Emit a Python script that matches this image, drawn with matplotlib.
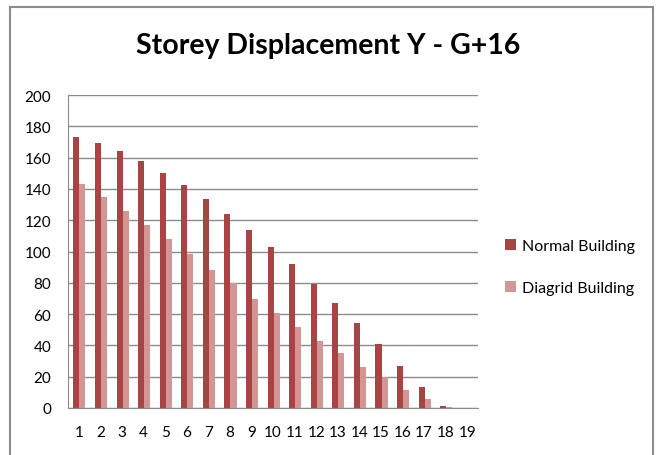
import matplotlib.pyplot as plt
from matplotlib.patches import Rectangle
import numpy as np

storeys = [str(i) for i in range(1, 20)]
normal = [173, 169.4, 164, 157.7, 150.4, 142.6, 133.6, 123.8, 113.6, 102.6,
          91.7, 79.4, 67.2, 54.3, 40.9, 27.0, 13.6, 1.5, 0]
diagrid = [143.2, 134.9, 126, 117, 107.9, 98.1, 88.3, 79.6, 69.8, 60.9,
           51.7, 42.6, 34.9, 26.4, 19.6, 11.7, 6.0, 0.9, 0]

c_normal = "#A94444"
c_diagrid = "#D49595"

plt.rcParams['font.family'] = ['Lato', 'DejaVu Sans']

W, H = 658, 456
fig = plt.figure(figsize=(W / 100, H / 100), dpi=100)

# outer chart frame
fig.patches.append(Rectangle((10 / W, -0.05), 643 / W, (H - 8) / H + 0.05,
                             transform=fig.transFigure, fill=False,
                             edgecolor="#8c8c8c", linewidth=1.5))

ax = fig.add_axes([68 / W, 1 - 409 / H, 410 / W, 313 / H])

x = np.arange(len(storeys))
bw = 0.28
ax.bar(x + 0.03 - bw / 2, normal, bw, color=c_normal, label="Normal Building")
ax.bar(x + 0.03 + bw / 2, diagrid, bw, color=c_diagrid, label="Diagrid Building")

ax.set_xlim(-0.5, len(storeys) - 0.5)
ax.set_ylim(0, 200)
ax.set_yticks(range(0, 201, 20))
ax.set_xticks(x)
ax.set_xticklabels(storeys)
ax.yaxis.grid(True, color="#8c8c8c", linewidth=1)
ax.set_axisbelow(True)
for s in ["top", "right"]:
    ax.spines[s].set_visible(False)
ax.spines["left"].set_color("#8c8c8c")
ax.spines["bottom"].set_color("#8c8c8c")
ax.tick_params(axis="both", length=0, labelsize=11, colors="black")
ax.tick_params(axis="y", pad=12)
ax.tick_params(axis="x", pad=12)

fig.text(328 / W, 1 - 46 / H, "Storey Displacement Y - G+16", ha="center",
         va="center", fontsize=20.5, fontweight="bold")

ax.legend(loc="center left", bbox_to_anchor=(1.03, 0.45), frameon=False,
          fontsize=11.5, handlelength=0.7, handleheight=0.7, handletextpad=0.4,
          labelspacing=1.75)

fig.savefig("out.png", dpi=100)
